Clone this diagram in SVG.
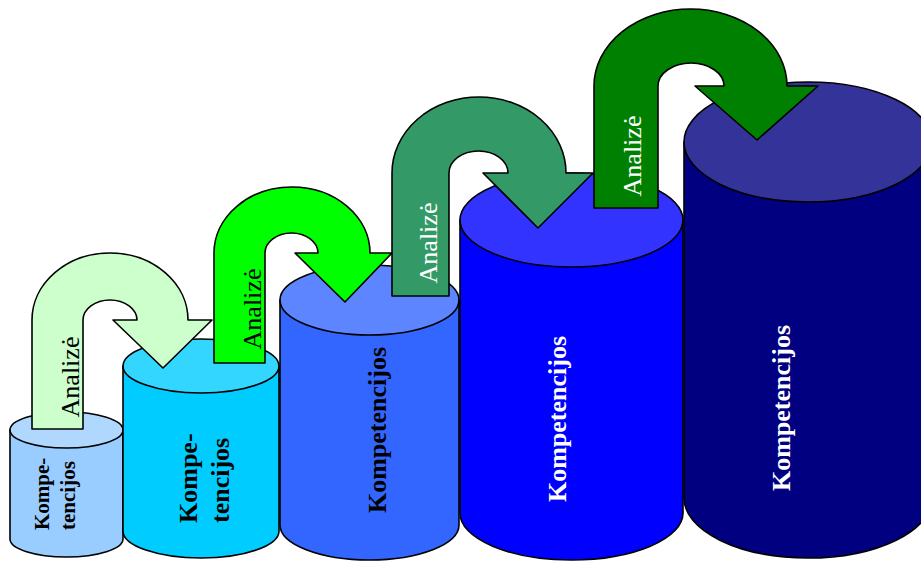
<svg xmlns="http://www.w3.org/2000/svg" width="921" height="561" viewBox="0 0 921 561">
<style>
.sh{stroke:#000;stroke-width:1.6;stroke-linejoin:round}
.lbl{font-family:"Liberation Serif","Times New Roman",serif;font-weight:bold}
.an{font-family:"Liberation Serif","Times New Roman",serif;font-size:26px;text-anchor:middle}
</style>
<rect width="921" height="561" fill="#fff"/>
<g id="cyl1">
<path class="sh" fill="#99CCFF" d="M10,430 V539 A56.5,18 0 0 0 123,539 V430 Z"/>
<ellipse class="sh" fill="#B0D8FF" cx="66.5" cy="430" rx="56.5" ry="18"/>
<text class="lbl" font-size="21" transform="translate(49,530) rotate(-90)">Kompe-</text>
<text class="lbl" font-size="21" transform="translate(75,530) rotate(-90)">tencijos</text>
</g>
<g id="cyl2">
<path class="sh" fill="#00CCFF" d="M123,366 V531 A78,27 0 0 0 279,531 V366 Z"/>
<ellipse class="sh" fill="#33D6FF" cx="201" cy="366" rx="78" ry="27"/>
<text class="lbl" font-size="26" transform="translate(197,523) rotate(-90)">Kompe-</text>
<text class="lbl" font-size="26" transform="translate(229,523) rotate(-90)">tencijos</text>
</g>
<g id="cyl3">
<path class="sh" fill="#3366FF" d="M280,300 V525 A89.5,35 0 0 0 459,525 V300 Z"/>
<ellipse class="sh" fill="#5C85FF" cx="369.5" cy="300" rx="89.5" ry="35"/>
<text class="lbl" font-size="26" text-anchor="middle" transform="translate(386,430) rotate(-90)">Kompetencijos</text>
</g>
<g id="cyl4">
<path class="sh" fill="#0000FF" d="M460,220 V513 A111.5,47 0 0 0 683,513 V220 Z"/>
<ellipse class="sh" fill="#3333FF" cx="571.5" cy="220" rx="111.5" ry="47"/>
<text class="lbl" font-size="26" fill="#fff" text-anchor="middle" transform="translate(566,419) rotate(-90)">Kompetencijos</text>
</g>
<g id="cyl5">
<path class="sh" fill="#000080" d="M684,142 V498 A124,60 0 0 0 932,498 V142 Z"/>
<ellipse class="sh" fill="#333399" cx="808" cy="142" rx="124" ry="60"/>
<text class="lbl" font-size="26" fill="#fff" text-anchor="middle" transform="translate(790,408) rotate(-90)">Kompetencijos</text>
</g>
<g id="connectors">
<g id="arrow1">
<path class="sh" fill="#CCFFCC" d="M32,429 V320 A78,67 0 0 1 188,320 H212 L163,368 L113,320 H137 A27,20 0 0 0 83,320 V429 Z"/>
<text class="an" transform="translate(79,377) rotate(-90)">Analizė</text>
</g>
<g id="arrow2">
<path class="sh" fill="#00FF00" d="M214,363 V253 A78,66 0 0 1 370,253 H392 L345,302 L295,253 H318 A26.5,20 0 0 0 265,253 V363 Z"/>
<text class="an" transform="translate(261,309) rotate(-90)">Analizė</text>
</g>
<g id="arrow3">
<path class="sh" fill="#339966" d="M392,296 V173 A87,76 0 0 1 566,173 H593 L538,228 L483,173 H508 A29.5,22 0 0 0 449,173 V296 Z"/>
<text class="an" fill="#fff" transform="translate(437,243) rotate(-90)">Analizė</text>
</g>
<g id="arrow4">
<path class="sh" fill="#008000" d="M594,208 V86 A96.5,77 0 0 1 787,86 H818 L757,140 L695,86 H724 A33,23 0 0 0 658,86 V208 Z"/>
<text class="an" fill="#fff" transform="translate(641,156) rotate(-90)">Analizė</text>
</g>
</g>
</svg>
